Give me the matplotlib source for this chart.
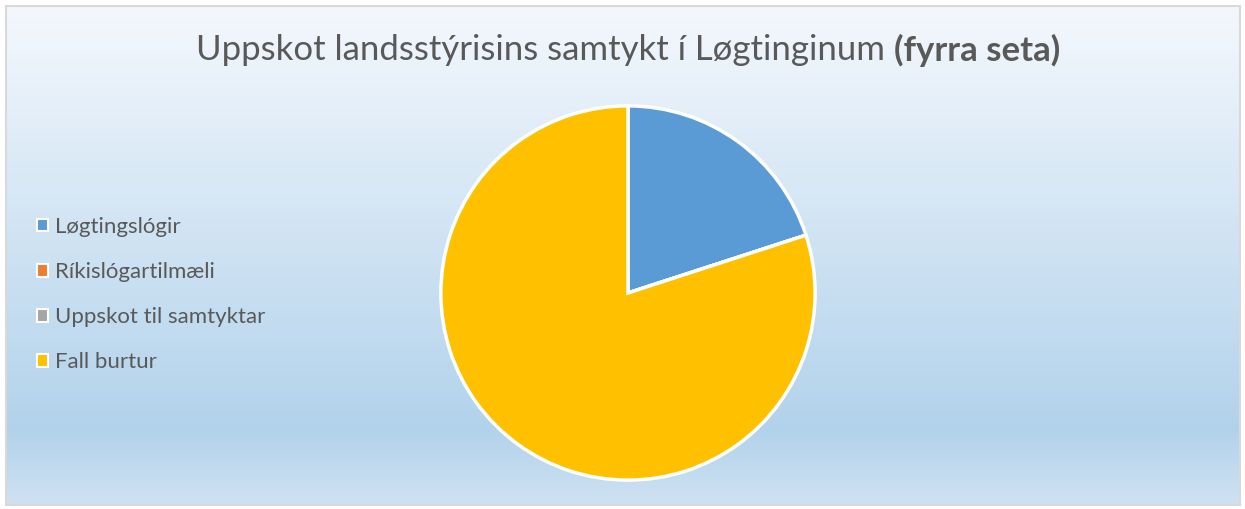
import matplotlib
matplotlib.use('Agg')
import matplotlib.pyplot as plt
import numpy as np
from matplotlib.colors import LinearSegmentedColormap
from matplotlib.patches import Rectangle, Patch

labels = ['Løgtingslógir', 'Ríkislógartilmæli', 'Uppskot til samtyktar', 'Fall burtur']
values = [1, 0, 0, 4]
colors = ['#5B9BD5', '#ED7D31', '#A5A5A5', '#FFC000']
title_plain = 'Uppskot landsstýrisins samtykt í Løgtinginum '
title_bold = '(fyrra seta)'

plt.rcParams['font.family'] = ['Lato', 'DejaVu Sans']
text_col = '#595959'

W, H = 1245, 509
fig = plt.figure(figsize=(W / 100, H / 100), dpi=100)

# background gradient inside the chart frame
x0, y0, x1, y1 = 6, 6, 1240, 505
bg = fig.add_axes([x0 / W, 1 - y1 / H, (x1 - x0) / W, (y1 - y0) / H])
grad = LinearSegmentedColormap.from_list(
    'bg', [(0.0, '#F4F8FD'), (0.85, '#B2D2EB'), (1.0, '#CFE2F2')])
bg.imshow(np.linspace(0, 1, 256).reshape(-1, 1), aspect='auto', cmap=grad,
          extent=[0, 1, 1, 0])
bg.set_xlim(0, 1)
bg.set_ylim(1, 0)
bg.axis('off')
fig.patches.append(Rectangle((x0 / W, 1 - y1 / H), (x1 - x0) / W, (y1 - y0) / H,
                             transform=fig.transFigure, fill=False,
                             edgecolor='#D9D9D9', linewidth=1.5, zorder=5))

# pie
r = 189
cx, cy = 628, 293
ax = fig.add_axes([(cx - r) / W, 1 - (cy + r) / H, 2 * r / W, 2 * r / H])
wedges, _ = ax.pie(values, colors=colors, startangle=90, counterclock=False,
                   wedgeprops=dict(edgecolor='white', linewidth=2.5))
ax.set_xlim(-1.01, 1.01)
ax.set_ylim(-1.01, 1.01)
ax.set_aspect('equal')

# title in two parts: plain + bold, centred as a whole
renderer = fig.canvas.get_renderer()
t1 = fig.text(0, 1 - 50 / H, title_plain, fontsize=25, color=text_col,
              ha='left', va='center')
t2 = fig.text(0, 1 - 50 / H, title_bold, fontsize=25, color=text_col,
              fontweight='bold', ha='left', va='center')
w1 = t1.get_window_extent(renderer=renderer).width
w2 = t2.get_window_extent(renderer=renderer).width
start = (200 + 1057) / 2 - (w1 + w2) / 2
t1.set_x(start / W)
t2.set_x((start + w1) / W)

handles = [Patch(facecolor=c, edgecolor='white', linewidth=1.5) for c in colors]
fig.legend(handles, labels, loc='upper left',
           bbox_to_anchor=(17 / W, 1 - 197 / H), frameon=False,
           fontsize=16, labelcolor=text_col, handlelength=0.5,
           handleheight=0.5, handletextpad=0.3, labelspacing=1.13)

fig.savefig('out.png', dpi=100)
